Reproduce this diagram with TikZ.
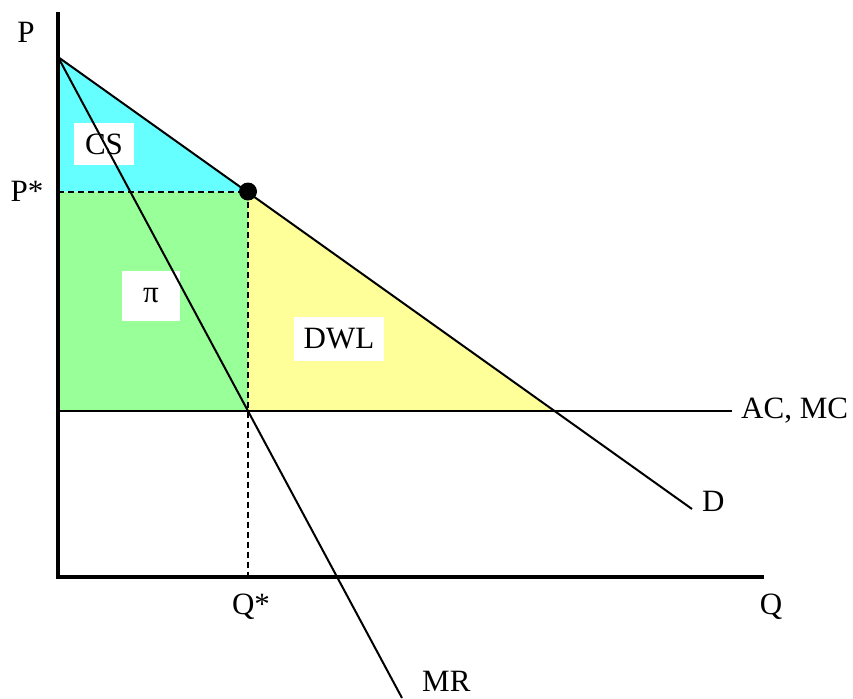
\documentclass[tikz,border=0pt]{standalone}
\usepackage{fontspec}
\setmainfont{Liberation Serif}
\usetikzlibrary{positioning}
\definecolor{csCyan}{HTML}{66FFFF}
\definecolor{profitGreen}{HTML}{99FF99}
\definecolor{dwlYellow}{HTML}{FFFF99}
\tikzset{
    axisLine/.style={
        line width=3.2pt
    },
    curveLine/.style={
        line width=2pt
    },
    guideLine/.style={
        line width=2pt,
        dash pattern=on 6pt off 4pt
    },
    areaLabel/.style={
        fill=white,
        inner sep=0pt
    },
    axisLabel/.style={
        inner sep=0pt
    }
}

\begin{document}
\begin{tikzpicture}[x=1pt,y=-1pt,font=\fontsize{31}{36}\selectfont]
        \useasboundingbox (0,0) rectangle (853,698);

        % key points of the market
        \coordinate (origin) at (58,577);
        \coordinate (pTop) at (58,12);
        \coordinate (qEnd) at (764,577);
        \coordinate (choke) at (58,57);
        \coordinate (monopoly) at (248,191.5);
        \coordinate (dEnd) at (692,509);
        \coordinate (mrEnd) at (402,698);
        \coordinate (pStar) at (58,191.5);
        \coordinate (qStar) at (248,577);
        \coordinate (mrMc) at (248,411);
        \coordinate (mcStart) at (58,411);
        \coordinate (mcEnd) at (732,411);
        \coordinate (dMc) at (554.5,411);

        % surplus areas
        \fill[csCyan] (choke) -- (monopoly) -- (pStar) -- cycle;
        \fill[profitGreen] (pStar) rectangle (mrMc);
        \fill[dwlYellow] (monopoly) -- (dMc) -- (mrMc) -- cycle;

        \node[areaLabel,minimum width=60pt,minimum height=42pt] (cs) at (104,144) {CS};
        \node[areaLabel,minimum width=58pt,minimum height=50pt] (profit) at (151,296) {π};
        \node[areaLabel,minimum width=90pt,minimum height=44pt] (dwl) at (339,339) {DWL};

        % curves
        \draw[curveLine] (mcStart) -- (mcEnd);
        \draw[curveLine] (choke) -- (dEnd);
        \draw[curveLine] (choke) -- (mrEnd);
        \draw[guideLine] (pStar) -- (monopoly);
        \draw[guideLine] (monopoly) -- (qStar);

        % axes
        \draw[axisLine] (pTop) -- (origin) -- (qEnd);
        \fill (monopoly) circle (9pt);

        \node[axisLabel] (pLabel) at (26,32) {P};
        \node[axisLabel] (pStarLabel) at (27,191) {P*};
        \node[axisLabel] (qStarLabel) at (251,607) {Q*};
        \node[axisLabel] (qLabel) at (771,607) {Q};
        \node[axisLabel,anchor=west] (mcLabel) at (741,411) {AC, MC};
        \node[axisLabel,anchor=west] (dLabel) at (702,501) {D};
        \node[axisLabel,anchor=west] (mrLabel) at (422,681) {MR};
    \end{tikzpicture}
\end{document}
